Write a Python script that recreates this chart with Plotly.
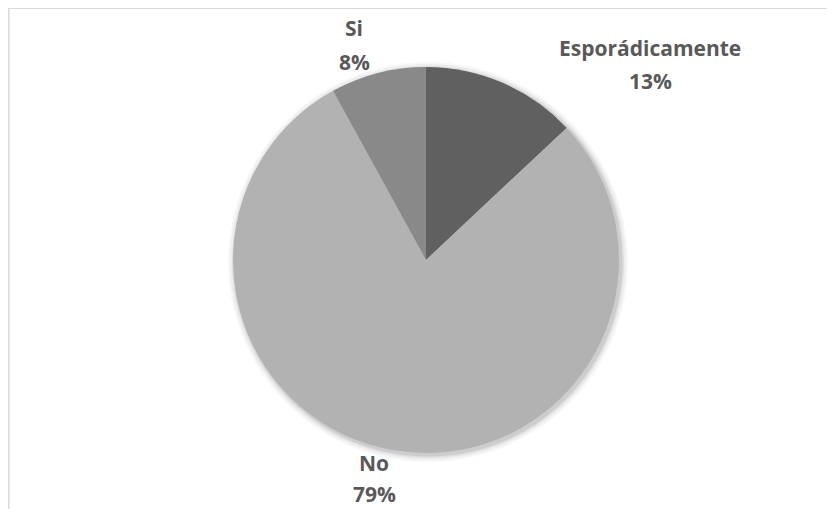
import plotly.graph_objects as go

labels = ["Esporádicamente", "No", "Si"]
values = [13, 79, 8]
colors = ["#606060", "#b2b2b2", "#898989"]

OFF = 8  # page body margin
W, H = 835 - OFF, 509 - OFF
cx, cy, r = 426 - OFF, 260 - OFF, 193  # pixel centre / radius of pie (figure coords)

# label anchor positions in window pixels (x, name line y, pct line y)
label_pos = {
    "Esporádicamente": (650, 48, 81),
    "No": (374, 463, 494),
    "Si": (354, 28, 62),
}

fig = go.Figure()
fig.add_trace(go.Pie(
    labels=labels, values=values, sort=False, direction="clockwise", rotation=0,
    marker=dict(colors=colors, line=dict(width=0)),
    textinfo="none", hoverinfo="label+percent", showlegend=False,
    domain=dict(x=[(cx - r) / W, (cx + r) / W], y=[(H - cy - r) / H, (H - cy + r) / H]),
))

shapes = []
# soft shadow
for k, op in [(7, 0.03), (5, 0.04), (3, 0.06), (1.5, 0.08)]:
    shapes.append(dict(type="circle", xref="paper", yref="paper", layer="below",
                       x0=(cx - r - k + 2) / W, x1=(cx + r + k + 2) / W,
                       y0=(H - cy - r - k - 2) / H, y1=(H - cy + r + k - 2) / H,
                       fillcolor=f"rgba(0,0,0,{op})", line=dict(width=0)))
# chart frame (left and top edges)
shapes.append(dict(type="line", xref="paper", yref="paper", x0=0.6 / W, x1=1.0, y0=1.0, y1=1.0,
                   line=dict(color="#d9d9d9", width=2)))
shapes.append(dict(type="line", xref="paper", yref="paper", x0=0.6 / W, x1=0.6 / W, y0=0, y1=1,
                   line=dict(color="#d9d9d9", width=2)))

total = sum(values)
annotations = []
for lab, val in zip(labels, values):
    x, y1, y2 = label_pos[lab]
    pct = f"{round(100 * val / total)}%"
    for txt, yy in [(lab, y1), (pct, y2)]:
        annotations.append(dict(text=f"<b>{txt}</b>", x=(x - OFF) / W, y=1 - (yy - OFF) / H,
                                xref="paper", yref="paper",
                                xanchor="center", yanchor="middle", showarrow=False,
                                font=dict(family="Open Sans", size=21, color="#595959")))

fig.update_layout(width=W, height=H, margin=dict(l=0, r=0, t=0, b=0),
                  paper_bgcolor="white", plot_bgcolor="white",
                  shapes=shapes, annotations=annotations)
fig.write_html("out.html")
